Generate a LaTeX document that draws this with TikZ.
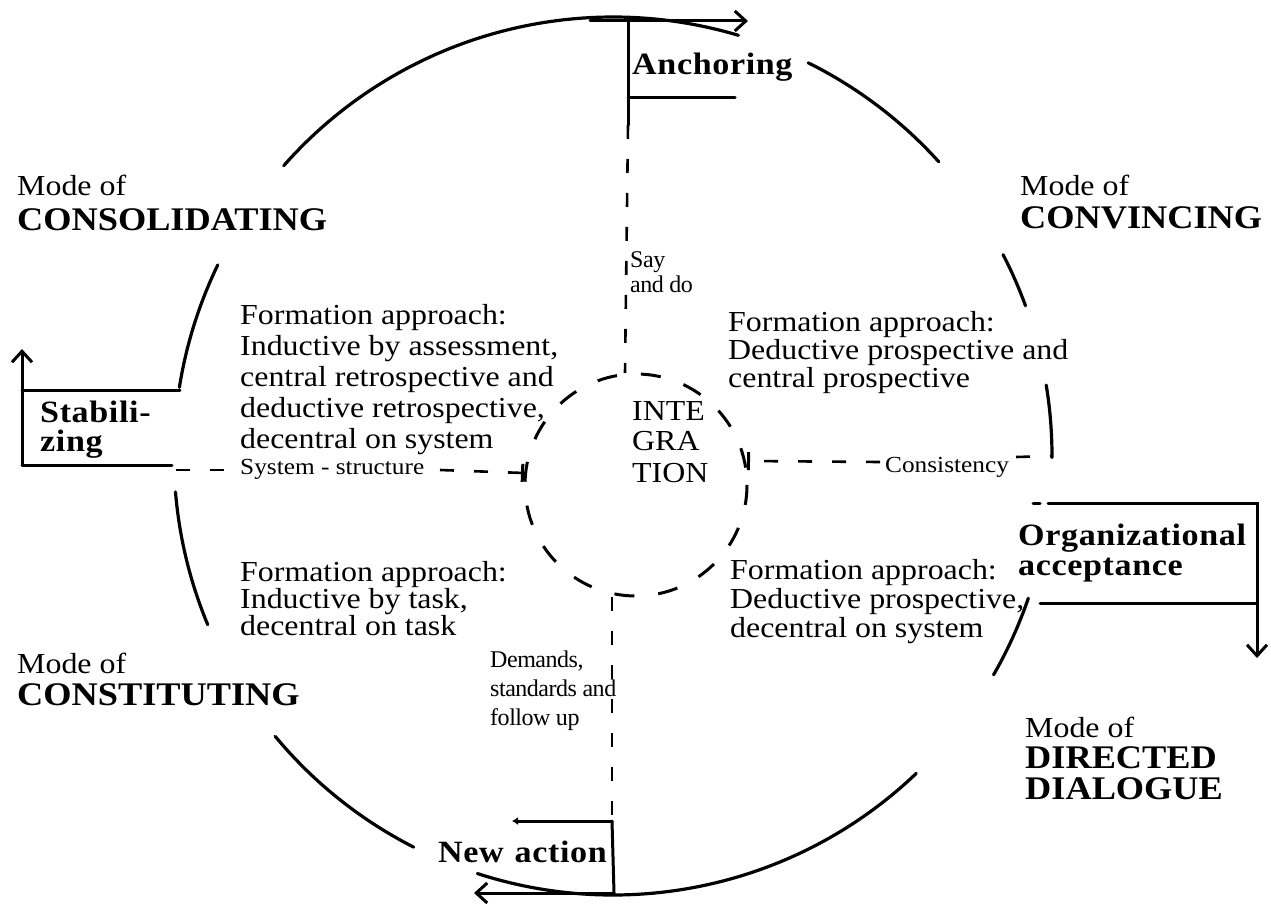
\documentclass[tikz,border=0pt]{standalone}
\usepackage{fontspec}
\setmainfont{Liberation Serif}[FakeStretch=1.1]
\newfontfamily\labfont{Liberation Serif}[FakeStretch=1.1,LetterSpace=2]
\newfontfamily\tightfont{Liberation Serif}[LetterSpace=-2]
\usetikzlibrary{arrows.meta,calc}
\tikzset{
  outer/.style={line width=3.2pt, line cap=round},
  boxline/.style={line width=3pt, line cap=round},
  inner/.style={line width=3pt, dash pattern=on 20pt off 24pt},
  spoke/.style={line width=2.6pt, dash pattern=on 14pt off 20pt},
  arr/.style={-{Straight Barb[length=11pt,width=20pt,line width=3pt]}},
  tick/.style={-{Bar[width=18pt,line width=3pt]}},
  txt/.style={inner sep=0pt, anchor=base west, font={\fontsize{29}{31}\selectfont}},
  sm/.style={inner sep=0pt, anchor=base west, font={\fontsize{23}{25}\selectfont}},
  tsm/.style={inner sep=0pt, anchor=base west, font={\tightfont\fontsize{24}{26}\selectfont}},
  lab/.style={inner sep=0pt, anchor=base west, font={\labfont\bfseries\fontsize{31}{33}\selectfont}},
  caps/.style={inner sep=0pt, anchor=base west, font={\bfseries\fontsize{33}{35}\selectfont}},
}
\begin{document}
\begin{tikzpicture}[x=1pt,y=-1pt]
\useasboundingbox (0,0) rectangle (1271,904);
\fill[white] (0,0) rectangle (1271,904);
\coordinate (O) at (613,456);
\coordinate (I) at (636,485);

% outer cycle, broken at the labels
\draw[outer] ([shift={(-73.4:439)}]O) arc[start angle=-73.4,end angle=-138.6,radius=439];
\draw[outer] ([shift={(-42.1:439)}]O) arc[start angle=-42.1,end angle=-63.6,radius=439];
\draw[outer] ([shift={(-20:439)}]O) arc[start angle=-20,end angle=-27.3,radius=439];
\draw[outer] ([shift={(0.2:439)}]O) arc[start angle=0.2,end angle=-9.3,radius=439];
\draw[outer] ([shift={(18.9:439)}]O) arc[start angle=18.9,end angle=29.9,radius=439];
\draw[outer] ([shift={(46.3:439)}]O) arc[start angle=46.3,end angle=108,radius=439];
\draw[outer] ([shift={(117:439)}]O) arc[start angle=117,end angle=140.3,radius=439];
\draw[outer] ([shift={(157.4:439)}]O) arc[start angle=157.4,end angle=175.3,radius=439];
\draw[outer] ([shift={(189:439)}]O) arc[start angle=189,end angle=205.8,radius=439];

% inner dashed circle
\draw[inner] (I) circle[radius=111];

% Anchoring
\node[lab] (anch) at (632,75) {Anchoring};
\coordinate (anchL) at (590,21);
\coordinate (anchR) at (748,21);
\coordinate (anchV) at (628,21);
\coordinate (anchM) at (628,98);
\coordinate (anchF) at (735,98);
\coordinate (anchB) at (628,125);
\draw[boxline,arr] (anchL) -- (anchR);
\draw[boxline] (anchV) -- (anchB);
\draw[boxline] (anchM) -- (anchF);

% Stabilizing
\node[lab] (stab1) at (40,422) {Stabili-};
\node[lab] (stab2) at (40,451) {zing};
\coordinate (stTR) at (180,390);
\coordinate (stTL) at (22,390);
\coordinate (stBL) at (22,465);
\coordinate (stBR) at (172,465);
\coordinate (stUp) at (22,349);
\draw[boxline] (stTR) -- (stTL);
\draw[boxline,arr] (stBL) -- (stUp);
\draw[boxline] (stBL) -- (stBR);

% Organizational acceptance
\node[lab] (org1) at (1018,545) {Organizational};
\node[lab] (org2) at (1018,575) {acceptance};
\coordinate (orT0) at (1033,503);
\coordinate (orT1) at (1040,503);
\coordinate (orT2) at (1048,503);
\coordinate (orTR) at (1257,503);
\coordinate (orDn) at (1257,658);
\coordinate (orBL) at (1040,603);
\coordinate (orBR) at (1257,603);
\draw[boxline] (orT0) -- (orT1);
\draw[boxline,arr] (orT2) -- (orTR) -- (orDn);
\draw[boxline] (orBL) -- (orBR);

% New action
\node[lab] (new) at (438,862) {New\hspace{0.35em}action};
\coordinate (naTR) at (612,821);
\coordinate (naTL) at (512,821);
\coordinate (naBR) at (614,893);
\coordinate (naBL) at (474,893);
\draw[boxline,-{Latex[length=6pt,width=8pt]}] (naTR) -- (naTL);
\draw[boxline] (naTR) -- (naBR);
\draw[boxline,arr] (naBR) -- (naBL);

% spokes
\coordinate (inTop) at (625,373);
\coordinate (inBot) at (612,597);
\coordinate (inLeft) at (524,473);
\coordinate (inRight) at (747,461);
\draw[spoke] (anchB) -- (inTop);
\draw[spoke] (inBot) -- (naTR);

\node[sm] (sys) at (240,474) {System - structure};
\coordinate (sysA) at (176,470);
\coordinate (sysB) at (236,470);
\coordinate (sysC) at (440,470);
\draw[spoke] (sysA) -- (sysB);
\draw[spoke,tick] (sysC) -- (inLeft);

\node[sm] (cons) at (885,472) {Consistency};
\coordinate (coA) at (880,462);
\coordinate (coB) at (1016,457);
\coordinate (coC) at (1053,456);
\draw[spoke,tick] (coA) -- (inRight);
\draw[spoke] (coB) -- (coC);

% central labels
\node[txt] (int1) at (632,420) {INTE};
\node[txt] (int2) at (632,450) {GRA};
\node[txt] (int3) at (632,482) {TION};

\node[tsm] (say1) at (630,267) {Say};
\node[tsm] (say2) at (630,292) {and do};

\node[tsm] (dem1) at (490,667) {Demands,};
\node[tsm] (dem2) at (490,696) {standards and};
\node[tsm] (dem3) at (490,725) {follow up};

% modes
\node[txt] (m1) at (17,196) {Mode of};
\node[caps] (c1) at (17,230) {CONSOLIDATING};
\node[txt] (m2) at (1020,196) {Mode of};
\node[caps] (c2) at (1020,228) {CONVINCING};
\node[txt] (m3) at (17,673) {Mode of};
\node[caps] (c3) at (17,705) {CONSTITUTING};
\node[txt] (m4) at (1025,737) {Mode of};
\node[caps] (c4a) at (1025,768) {DIRECTED};
\node[caps] (c4b) at (1025,799) {DIALOGUE};

% formation approaches
\node[txt] (ul1) at (240,324) {Formation approach:};
\node[txt] (ul2) at (240,355) {Inductive by assessment,};
\node[txt] (ul3) at (240,386) {central retrospective and};
\node[txt] (ul4) at (240,417) {deductive retrospective,};
\node[txt] (ul5) at (240,448) {decentral on system};

\node[txt] (ur1) at (728,331) {Formation approach:};
\node[txt] (ur2) at (728,359) {Deductive prospective and};
\node[txt] (ur3) at (728,387) {central prospective};

\node[txt] (ll1) at (240,581) {Formation approach:};
\node[txt] (ll2) at (240,608) {Inductive by task,};
\node[txt] (ll3) at (240,635) {decentral on task};

\node[txt] (lr1) at (730,579) {Formation approach:};
\node[txt] (lr2) at (730,608) {Deductive prospective,};
\node[txt] (lr3) at (730,637) {decentral on system};
\end{tikzpicture}
\end{document}
